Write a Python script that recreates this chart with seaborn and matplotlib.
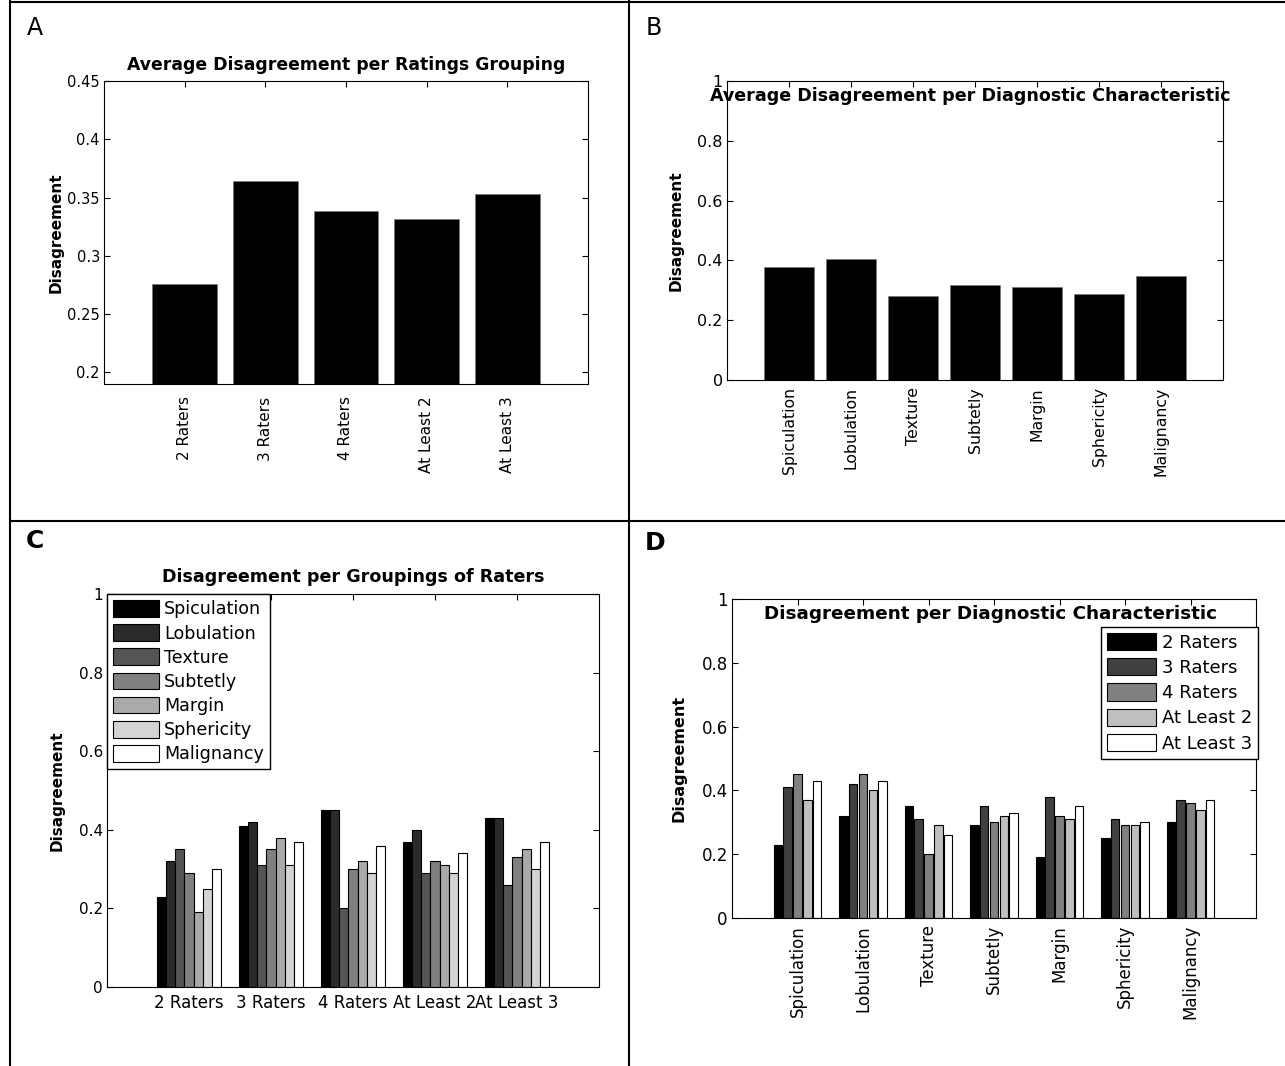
import numpy as np
import pandas as pd
import matplotlib
matplotlib.use("Agg")
import matplotlib.pyplot as plt
from matplotlib.lines import Line2D
from matplotlib.ticker import FuncFormatter
import seaborn as sns

groups = ["2 Raters", "3 Raters", "4 Raters", "At Least 2", "At Least 3"]
characteristics = ["Spiculation", "Lobulation", "Texture", "Subtetly",
                   "Margin", "Sphericity", "Malignancy"]

# disagreement of each characteristic, one value per rater grouping (same order as groups)
spiculation = [0.23, 0.41, 0.45, 0.37, 0.43]
lobulation = [0.32, 0.42, 0.45, 0.40, 0.43]
texture = [0.35, 0.31, 0.20, 0.29, 0.26]
subtetly = [0.29, 0.35, 0.30, 0.32, 0.33]
margin = [0.19, 0.38, 0.32, 0.31, 0.35]
sphericity = [0.25, 0.31, 0.29, 0.29, 0.30]
malignancy = [0.30, 0.37, 0.36, 0.34, 0.37]

values = [spiculation, lobulation, texture, subtetly, margin, sphericity, malignancy]

df = pd.DataFrame({
    "characteristic": np.repeat(characteristics, len(groups)),
    "grouping": groups * len(characteristics),
    "disagreement": np.concatenate(values),
})

gray7 = [str(v) for v in np.linspace(0, 1, 7)]
gray5 = [str(v) for v in np.linspace(0, 1, 5)]

sns.set_style("white")
plt.rcParams["font.family"] = "DejaVu Sans"
plt.rcParams["text.color"] = "black"
plt.rcParams["axes.labelcolor"] = "black"
plt.rcParams["xtick.color"] = "black"
plt.rcParams["ytick.color"] = "black"

W, H = 1285, 1066
fig = plt.figure(figsize=(W / 100, H / 100), dpi=100)


def add_axes(left, top, right, bottom):
    return fig.add_axes([left / W, 1 - bottom / H, (right - left) / W, (bottom - top) / H])


def style_axes(ax, xsize, ysize, xpad, label_x, label_size):
    for s in ax.spines.values():
        s.set_visible(True)
        s.set_color("black")
        s.set_linewidth(0.8)
    ax.tick_params(direction="in", top=True, right=True, bottom=True, left=True,
                   length=4, width=0.8, colors="black")
    ax.tick_params(axis="x", labelsize=xsize, pad=xpad)
    ax.tick_params(axis="y", labelsize=ysize, pad=3)
    ax.yaxis.set_major_formatter(FuncFormatter(lambda v, p: f"{v:g}"))
    ax.set_xlabel("")
    ax.set_ylabel("Disagreement", fontsize=label_size, fontweight="bold", color="black")
    ax.yaxis.set_label_coords(label_x, 0.5)
    ax.yaxis.label.set_va("center")


# A: average per rater grouping
axA = add_axes(104, 81, 588, 384)
sns.barplot(data=df, x="grouping", y="disagreement", order=groups, estimator="mean",
            errorbar=None, color="black", saturation=1, width=0.8,
            edgecolor="#777777", linewidth=0.5, ax=axA)
axA.set_xlim(-1, 5)
axA.set_ylim(0.19, 0.45)
axA.set_yticks(np.arange(0.2, 0.451, 0.05))
style_axes(axA, 11, 10.5, 9, -0.099, 11)
axA.tick_params(axis="x", labelrotation=90)
axA.set_title("Average Disagreement per Ratings Grouping", fontsize=12.4,
              fontweight="bold", pad=8, color="black")

# B: average per diagnostic characteristic
axB = add_axes(727, 81, 1223, 380)
sns.barplot(data=df, x="characteristic", y="disagreement", order=characteristics,
            estimator="mean", errorbar=None, color="black", saturation=1, width=0.8,
            edgecolor="#777777", linewidth=0.5, ax=axB)
axB.set_xlim(-1, 7)
axB.set_ylim(0, 1)
axB.set_yticks(np.arange(0, 1.01, 0.2))
style_axes(axB, 11.3, 11.5, 5, -0.103, 11)
axB.tick_params(axis="x", labelrotation=90)
axB.text(0.49, 0.934, "Average Disagreement per Diagnostic Characteristic",
         transform=axB.transAxes, ha="center", va="baseline", fontsize=12.6,
         fontweight="bold", color="black")

# C: grouped by rater grouping
axC = add_axes(107, 594, 599, 987)
sns.barplot(data=df, x="grouping", y="disagreement", hue="characteristic",
            order=groups, hue_order=characteristics, palette=gray7, saturation=1,
            errorbar=None, width=0.78, gap=0, edgecolor="black", linewidth=0.8, ax=axC)
axC.set_xlim(-1, 5)
axC.set_ylim(0, 1)
axC.set_yticks(np.arange(0, 1.01, 0.2))
style_axes(axC, 12, 11, 5, -0.102, 11)
axC.set_title("Disagreement per Groupings of Raters", fontsize=12.6,
              fontweight="bold", pad=8.8, color="black")
h, l = axC.get_legend_handles_labels()
legC = axC.legend(h, l, loc="upper left", bbox_to_anchor=(0, 1), borderaxespad=0,
                  frameon=True, fancybox=False, edgecolor="black", framealpha=1,
                  fontsize=12.6, handlelength=2.6, handleheight=1.1,
                  labelspacing=0.33, handletextpad=0.3, borderpad=0.35)
legC.get_frame().set_linewidth(1)

# D: grouped by diagnostic characteristic
axD = add_axes(732, 599, 1256, 918)
sns.barplot(data=df, x="characteristic", y="disagreement", hue="grouping",
            order=characteristics, hue_order=groups, palette=gray5, saturation=1,
            errorbar=None, width=0.75, gap=0.15, edgecolor="black", linewidth=0.8,
            ax=axD)
axD.set_xlim(-1, 7)
axD.set_ylim(0, 1)
axD.set_yticks(np.arange(0, 1.01, 0.2))
style_axes(axD, 12, 12, 5, -0.102, 11.5)
axD.tick_params(axis="x", labelrotation=90)
axD.text(0.4935, 0.936, "Disagreement per Diagnostic Characteristic",
         transform=axD.transAxes, ha="center", va="baseline", fontsize=13.2,
         fontweight="bold", color="black")
h, l = axD.get_legend_handles_labels()
legD = axD.legend(h, l, loc="upper right", bbox_to_anchor=(1.004, 0.913),
                  borderaxespad=0, frameon=True, fancybox=False, edgecolor="black",
                  framealpha=1, fontsize=13, handlelength=2.7, handleheight=1.08,
                  labelspacing=0.36, handletextpad=0.3, borderpad=0.35)
legD.get_frame().set_linewidth(1)

# panel letters
fig.text(35 / W, 1 - 28 / H, "A", fontsize=17, ha="center", va="center")
fig.text(654 / W, 1 - 28 / H, "B", fontsize=17, ha="center", va="center")
fig.text(35 / W, 1 - 541 / H, "C", fontsize=18, fontweight="bold", ha="center", va="center")
fig.text(655 / W, 1 - 543 / H, "D", fontsize=18, fontweight="bold", ha="center", va="center")

# panel frame lines
frame = dict(color="black", linewidth=1.5, transform=fig.transFigure)
fig.add_artist(Line2D([10 / W, 10 / W], [0, 1], **frame))
fig.add_artist(Line2D([629 / W, 629 / W], [0, 1], **frame))
fig.add_artist(Line2D([10 / W, 1], [1 - 2 / H, 1 - 2 / H], **frame))
fig.add_artist(Line2D([10 / W, 1], [1 - 521 / H, 1 - 521 / H], **frame))

fig.savefig("out.png", dpi=100)
